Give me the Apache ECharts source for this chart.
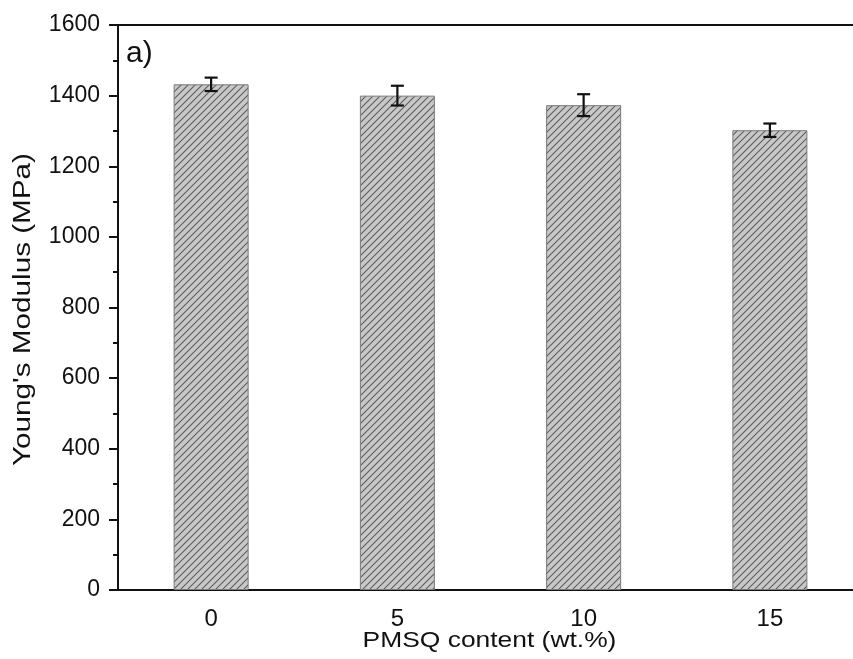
<!DOCTYPE html>
<html>
<head>
<meta charset="utf-8">
<script src="https://cdn.jsdelivr.net/npm/echarts@6/dist/echarts.min.js"></script>
<style>html,body{margin:0;padding:0;background:#fff;overflow:hidden}#c{width:853px;height:659px}</style>
</head>
<body>
<div id="c"></div>
<script>
var categories = ['0', '5', '10', '15'];
var modulus = [1432, 1400, 1373, 1302];
var errors = [19, 28, 31, 19];
var yTicks = [0, 200, 400, 600, 800, 1000, 1200, 1400, 1600];
var xTitle = 'PMSQ content (wt.%)';
var yTitle = "Young's Modulus (MPa)";
var panelLabel = 'a)';

var FONT = 'Liberation Sans';

function hatch() {
  var s = 7;
  var cv = document.createElement('canvas');
  cv.width = s; cv.height = s;
  var ctx = cv.getContext('2d');
  ctx.fillStyle = '#c8c8c8';
  ctx.fillRect(0, 0, s, s);
  ctx.strokeStyle = '#5e5e5e';
  ctx.lineWidth = 1.1;
  ctx.beginPath();
  ctx.moveTo(0, s); ctx.lineTo(s, 0);
  ctx.moveTo(-2, 2); ctx.lineTo(2, -2);
  ctx.moveTo(s - 2, s + 2); ctx.lineTo(s + 2, s - 2);
  ctx.stroke();
  return cv;
}

var chart = echarts.init(document.getElementById('c'), null, {renderer: 'canvas'});
var errData = modulus.map(function (v, i) { return [i, v - errors[i], v + errors[i]]; });

chart.setOption({
  animation: false,
  grid: {left: 118, top: 25, height: 565, width: 745, outerBoundsMode: 'none', containLabel: false,
    show: true, borderColor: '#111', borderWidth: 2, backgroundColor: 'transparent'},
  xAxis: [{
    type: 'category', data: categories, position: 'bottom',
    axisLine: {lineStyle: {color: '#111', width: 2}},
    axisTick: {alignWithLabel: true, length: 8, lineStyle: {color: '#111', width: 2}},
    axisLabel: {fontFamily: FONT, fontSize: 24, color: '#111', margin: 17},
    splitLine: {show: false}
  }, {
    type: 'category', data: categories, position: 'bottom',
    axisLine: {show: false},
    axisTick: {length: 4, lineStyle: {color: '#111', width: 2}},
    axisLabel: {show: false},
    splitLine: {show: false}
  }],
  yAxis: {
    type: 'value', min: 0, max: 1600, interval: 200,
    axisLine: {show: true, lineStyle: {color: '#111', width: 2}},
    axisTick: {show: true, length: 9, lineStyle: {color: '#111', width: 2}},
    minorTick: {show: true, splitNumber: 2, length: 5, lineStyle: {color: '#111', width: 2}},
    axisLabel: {fontFamily: FONT, fontSize: 23, color: '#111', margin: 18,
      formatter: function (v) { return yTicks.indexOf(v) >= 0 ? String(v) : ''; }},
    splitLine: {show: false}
  },
  graphic: [{
    type: 'text', left: 126, top: 39,
    style: {text: panelLabel, font: '30px "Liberation Sans"', fill: '#111'}
  }, {
    type: 'text', x: 489.5, y: 641, scaleX: 1.2,
    style: {text: xTitle, font: '22px "Liberation Sans"', fill: '#111', align: 'center', verticalAlign: 'middle'}
  }, {
    type: 'text', x: 24, y: 309.5, rotation: Math.PI / 2, scaleX: 1.29,
    style: {text: yTitle, font: '23px "Liberation Sans"', fill: '#111', align: 'center', verticalAlign: 'middle'}
  }],
  series: [{
    type: 'bar', data: modulus, barWidth: 75, xAxisIndex: 0,
    itemStyle: {color: {image: hatch(), repeat: 'repeat'}, borderColor: '#7a7a7a', borderWidth: 1}
  }, {
    type: 'custom', xAxisIndex: 0, data: errData, z: 10,
    renderItem: function (params, api) {
      var lo = api.coord([api.value(0), api.value(1)]);
      var hi = api.coord([api.value(0), api.value(2)]);
      var w = 6.5;
      var st = {stroke: '#111', lineWidth: 2.2};
      return {type: 'group', children: [
        {type: 'line', shape: {x1: hi[0], y1: hi[1], x2: lo[0], y2: lo[1]}, style: st},
        {type: 'line', shape: {x1: hi[0] - w, y1: hi[1], x2: hi[0] + w, y2: hi[1]}, style: st},
        {type: 'line', shape: {x1: lo[0] - w, y1: lo[1], x2: lo[0] + w, y2: lo[1]}, style: st}
      ]};
    }
  }]
});
</script>
</body>
</html>
